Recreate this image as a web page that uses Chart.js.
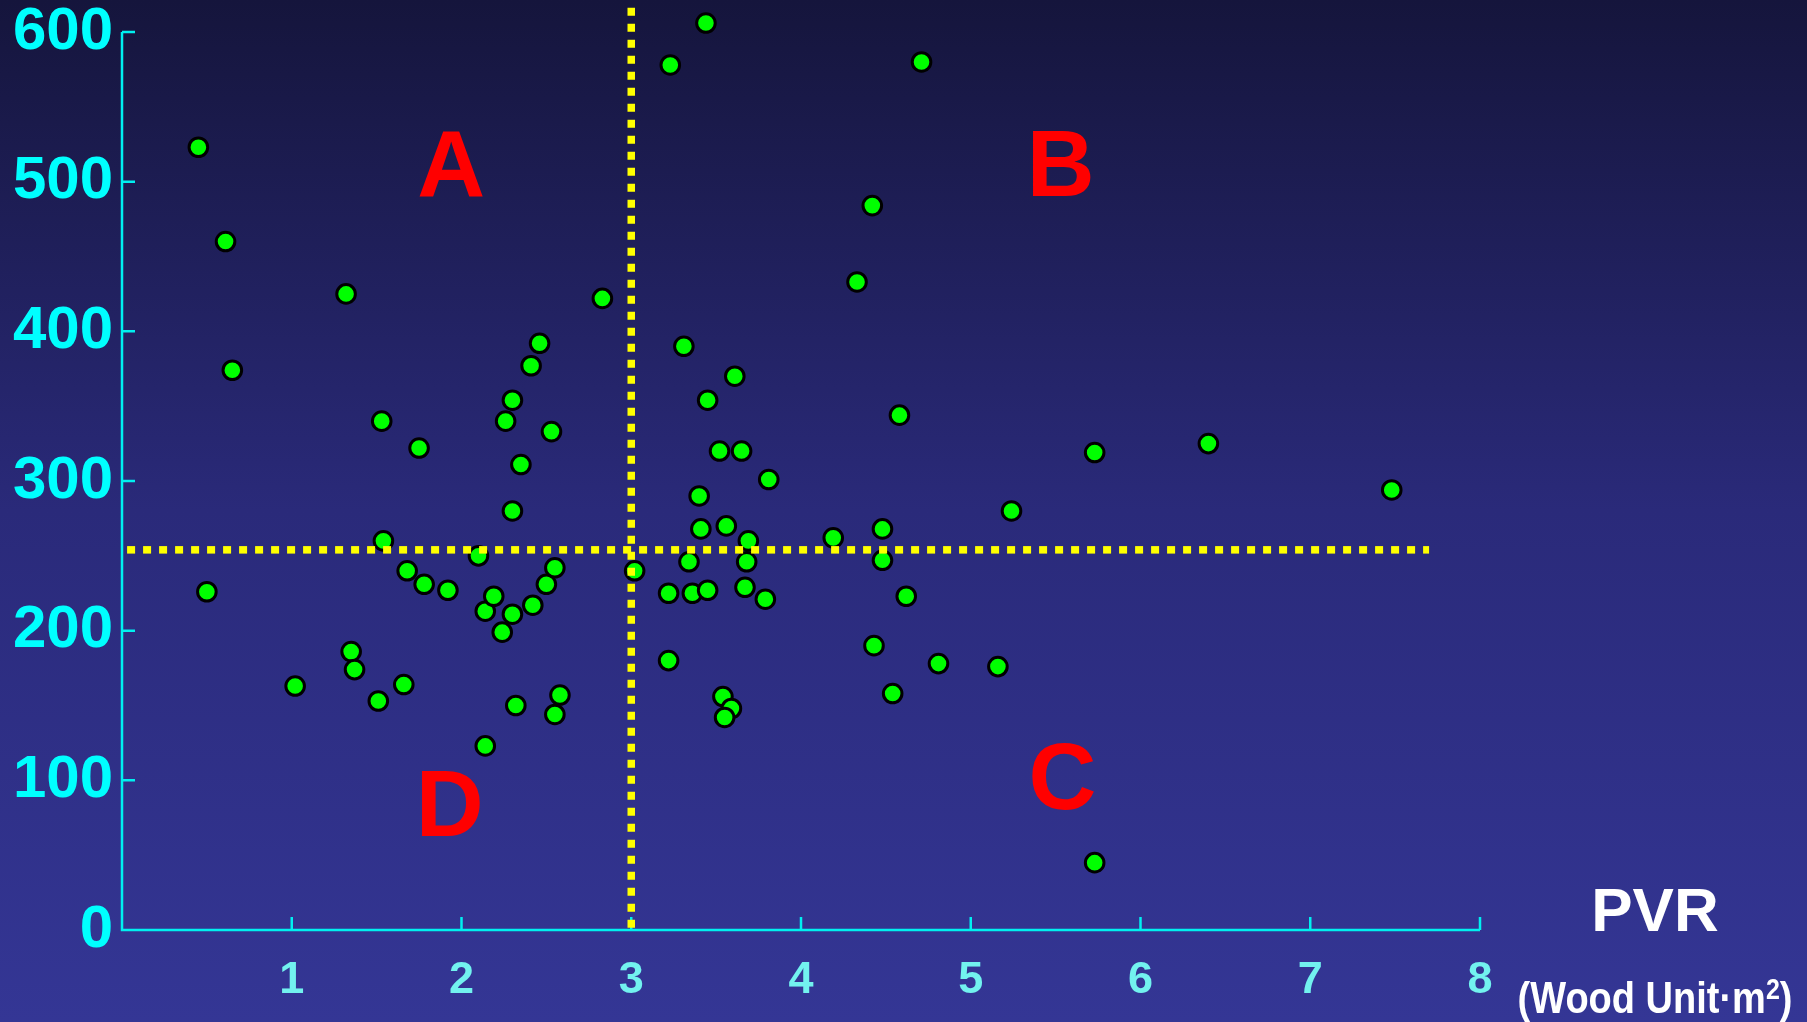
<!DOCTYPE html>
<html>
<head>
<meta charset="utf-8">
<script src="https://cdn.jsdelivr.net/npm/chart.js@4.4.1/dist/chart.umd.min.js"></script>
<style>
  html, body { margin: 0; padding: 0; background: #14153a; overflow: hidden; }
</style>
</head>
<body>
<canvas id="pvrChart" width="1807" height="1022"></canvas>
<script>
// ---- data ----------------------------------------------------------------
const pvrValues = [
  0.45, 0.61, 0.65, 0.50, 1.02, 1.32, 1.53, 1.75, 1.54, 1.68,
  1.78, 1.92, 1.35, 1.37, 1.51, 1.66, 2.10, 2.14, 2.19, 2.24,
  2.30, 2.14, 2.32, 2.26, 2.30, 2.35, 2.30, 2.41, 2.46, 2.53,
  2.42, 2.50, 2.55, 2.58, 2.55, 2.83, 3.02, 3.23, 3.44, 3.31,
  3.45, 3.61, 3.52, 3.65, 3.81, 3.40, 3.41, 3.56, 3.69, 3.34,
  3.68, 3.22, 3.36, 3.45, 3.67, 3.79, 3.22, 3.54, 3.59, 3.55,
  4.71, 4.42, 4.33, 4.58, 4.19, 4.48, 4.48, 4.62, 4.43, 4.54,
  4.81, 5.16, 5.24, 5.73, 5.73, 6.40, 7.48
];
const yValues = [
  523, 460, 374, 226, 163, 425, 340, 322, 260, 240,
  231, 227, 186, 174, 153, 164, 250, 213, 223, 199,
  211, 123, 150, 340, 354, 311, 280, 377, 392, 333,
  217, 231, 242, 157, 144, 422, 240, 578, 606, 390,
  354, 370, 320, 320, 301, 290, 268, 270, 260, 246,
  246, 225, 225, 227, 229, 221, 180, 156, 148, 142,
  580, 484, 433, 344, 262, 268, 247, 223, 190, 158,
  178, 176, 280, 319, 45, 325, 294
];
const xTickValues = [0, 1, 2, 3, 4, 5, 6, 7, 8];
const yTickValues = [0, 100, 200, 300, 400, 500, 600];

// cut-off lines splitting the plot into quadrants
const pvrCutoff = 3;
const yCutoff = 254;
const hLineFrom = 0.03;
const hLineTo = 7.7;
const vLineTop = 618;

const quadrantNames = ['A', 'B', 'C', 'D'];

const FONT = '"Liberation Sans", Arial, sans-serif';

// ---- plugins ---------------------------------------------------------------
const backdrop = {
  id: 'backdrop',
  beforeDraw(chart) {
    const { ctx, width, height } = chart;
    const g = ctx.createLinearGradient(0, 0, 0, height);
    g.addColorStop(0, '#15153c');
    g.addColorStop(0.5, '#2a2a7a');
    g.addColorStop(1, '#343695');
    ctx.save();
    ctx.fillStyle = g;
    ctx.fillRect(0, 0, width, height);
    ctx.restore();
  }
};

// axis lines with short ticks pointing into the plot
const axesLines = {
  id: 'axesLines',
  beforeDatasetsDraw(chart) {
    const { ctx, scales: { x, y } } = chart;
    const x0 = x.getPixelForValue(0);
    const y0 = y.getPixelForValue(0);
    const tick = 13;
    ctx.save();
    ctx.strokeStyle = '#00f0f0';
    ctx.lineWidth = 2.5;
    ctx.beginPath();
    ctx.moveTo(x0, y.getPixelForValue(600));
    ctx.lineTo(x0, y0);
    ctx.lineTo(x.getPixelForValue(8), y0);
    yTickValues.forEach(v => {
      const py = y.getPixelForValue(v);
      ctx.moveTo(x0, py);
      ctx.lineTo(x0 + tick, py);
    });
    xTickValues.forEach(v => {
      if (v === 0) return;
      const px = x.getPixelForValue(v);
      ctx.moveTo(px, y0);
      ctx.lineTo(px, y0 - tick);
    });
    ctx.stroke();
    ctx.restore();
  }
};

const annotations = {
  id: 'annotations',
  afterDraw(chart) {
    const { ctx, chartArea, scales: { x, y } } = chart;
    const spots = [[1.94, 507], [5.53, 508], [5.54, 98], [1.93, 80]];
    ctx.save();
    ctx.textAlign = 'center';
    ctx.textBaseline = 'middle';
    ctx.fillStyle = '#ff0000';
    ctx.font = 'bold 94px ' + FONT;
    quadrantNames.forEach((name, i) => {
      ctx.fillText(name, x.getPixelForValue(spots[i][0]), y.getPixelForValue(spots[i][1]));
    });

    // axis title, bottom right
    const cx = chartArea.right + 175;
    ctx.fillStyle = '#ffffff';
    ctx.font = 'bold 62px ' + FONT;
    ctx.fillText('PVR', cx, 914);

    // unit line, a little taller than wide, with a raised "2"
    ctx.translate(cx, 1001);
    ctx.scale(1, 1.15);
    ctx.textAlign = 'left';
    const big = 'bold 38px ' + FONT;
    const small = 'bold 25px ' + FONT;
    ctx.font = big;
    const w1 = ctx.measureText('(Wood Unit\u00b7m').width;
    const w3 = ctx.measureText(')').width;
    ctx.font = small;
    const w2 = ctx.measureText('2').width;
    let px = -(w1 + w2 + w3) / 2;
    ctx.font = big;
    ctx.fillText('(Wood Unit\u00b7m', px, 0);
    px += w1;
    ctx.font = small;
    ctx.fillText('2', px, -9);
    px += w2;
    ctx.font = big;
    ctx.fillText(')', px, 0);
    ctx.restore();
  }
};

// ---- chart -----------------------------------------------------------------
const points = pvrValues.map((v, i) => ({ x: v, y: yValues[i] }));

const cutLine = (data) => ({
  type: 'line',
  data,
  borderColor: '#ffff00',
  borderWidth: 7.5,
  borderDash: [8, 8],
  borderCapStyle: 'butt',
  pointRadius: 0,
  clip: false,
  order: 0
});

new Chart(document.getElementById('pvrChart'), {
  type: 'scatter',
  data: {
    datasets: [
      cutLine([{ x: hLineFrom, y: yCutoff }, { x: hLineTo, y: yCutoff }]),
      cutLine([{ x: pvrCutoff, y: 1.5 }, { x: pvrCutoff, y: vLineTop }]),
      {
        data: points,
        backgroundColor: '#00ff00',
        borderColor: '#000000',
        borderWidth: 3,
        pointRadius: 9.3,
        pointHoverRadius: 9.3,
        clip: false,
        order: 1
      }
    ]
  },
  options: {
    responsive: false,
    animation: false,
    events: [],
    layout: { padding: { top: 32, right: 327, left: 0, bottom: 0 } },
    plugins: {
      legend: { display: false },
      tooltip: { enabled: false }
    },
    scales: {
      x: {
        type: 'linear',
        min: 0,
        max: 8,
        grid: { display: false, drawTicks: false },
        border: { display: false },
        afterBuildTicks: scale => { scale.ticks = xTickValues.map(v => ({ value: v })); },
        afterFit: scale => { scale.height = 92; },
        ticks: {
          color: '#72f2ef',
          padding: 24,
          maxRotation: 0,
          font: { family: FONT, size: 45, weight: 'bold', lineHeight: 1.2 },
          callback: v => (v === 0 ? '' : v)
        }
      },
      y: {
        min: 0,
        max: 600,
        grid: { display: false, drawTicks: false },
        border: { display: false },
        afterBuildTicks: scale => { scale.ticks = yTickValues.map(v => ({ value: v })); },
        afterFit: scale => { scale.width = 122; },
        ticks: {
          color: '#00ffff',
          padding: 9,
          // short line height keeps the top label from pushing the plot down
          font: { family: FONT, size: 60, weight: 'bold', lineHeight: 0.75 }
        }
      }
    }
  },
  plugins: [backdrop, axesLines, annotations]
});
</script>
</body>
</html>
